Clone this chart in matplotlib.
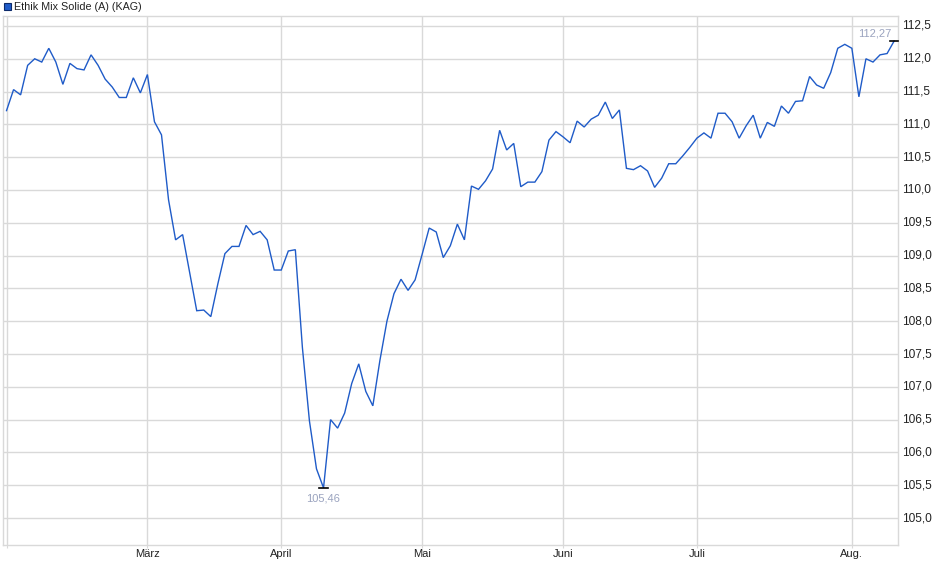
import matplotlib
matplotlib.use("Agg")
import matplotlib.pyplot as plt
from matplotlib.patches import Rectangle
from matplotlib.ticker import FixedLocator, FuncFormatter

# ---- data ----
series_name = "Ethik Mix Solide (A) (KAG)"
values = [
    111.21, 111.53, 111.45, 111.90, 112.00, 111.95, 112.16, 111.95, 111.61, 111.93,
    111.85, 111.83, 112.06, 111.90, 111.69, 111.57, 111.41, 111.41, 111.71, 111.48,
    111.76, 111.04, 110.84, 109.85, 109.24, 109.32, 108.74, 108.16, 108.17, 108.07,
    108.57, 109.03, 109.14, 109.14, 109.46, 109.32, 109.37, 109.24, 108.78, 108.78,
    109.07, 109.09, 107.60, 106.48, 105.75, 105.46, 106.50, 106.37, 106.60, 107.05,
    107.35, 106.93, 106.71, 107.40, 108.00, 108.42, 108.64, 108.47, 108.63, 109.02,
    109.42, 109.36, 108.97, 109.15, 109.48, 109.24, 110.06, 110.01, 110.14, 110.32,
    110.91, 110.61, 110.71, 110.05, 110.12, 110.12, 110.28, 110.76, 110.89, 110.81,
    110.72, 111.05, 110.96, 111.08, 111.14, 111.34, 111.09, 111.22, 110.33, 110.31,
    110.37, 110.29, 110.04, 110.18, 110.40, 110.40, 110.52, 110.65, 110.79, 110.87,
    110.79, 111.17, 111.17, 111.04, 110.79, 110.98, 111.14, 110.79, 111.03, 110.97,
    111.28, 111.17, 111.35, 111.36, 111.73, 111.60, 111.55, 111.79, 112.16, 112.22,
    112.16, 111.42, 112.00, 111.95, 112.06, 112.08, 112.27,
]
month_labels = ["März", "April", "Mai", "Juni", "Juli", "Aug."]
month_index = [20, 39, 59, 79, 98, 120]
y_ticks = [105.0, 105.5, 106.0, 106.5, 107.0, 107.5, 108.0, 108.5, 109.0,
           109.5, 110.0, 110.5, 111.0, 111.5, 112.0, 112.5]

# ---- styling ----
W, H = 940, 579
fig = plt.figure(figsize=(W / 100, H / 100), dpi=100)
plt.rcParams['font.family'] = ['Liberation Sans', 'DejaVu Sans']

left, right, top, bottom = 3, 898, 16, 545
ax = fig.add_axes([left / W, (H - bottom) / H, (right - left) / W, (bottom - top) / H])

line_color = "#1f5bc8"
grid_color = "#d9d9d9"
label_color = "#9aa3bf"

x = list(range(len(values)))
ax.plot(x, values, color=line_color, lw=1.0, solid_joinstyle="miter", zorder=3)

ax.set_xlim(-0.5, 126.55)
ax.set_ylim(104.589, 112.652)

# grids
ax.xaxis.set_major_locator(FixedLocator([0] + month_index))
ax.set_xticklabels([""] + month_labels)
ax.yaxis.set_major_locator(FixedLocator(y_ticks))
ax.yaxis.set_major_formatter(FuncFormatter(lambda v, p: f"{v:.1f}".replace(".", ",")))
ax.grid(True, color=grid_color, lw=1.0, zorder=0)
ax.set_axisbelow(True)

ax.yaxis.tick_right()
ax.tick_params(axis="y", length=0, pad=3, labelsize=8.6, labelcolor="#222222")
ax.tick_params(axis="x", length=2, color=grid_color, pad=1, labelsize=8, labelcolor="#222222")
for lbl in ax.get_yticklabels():
    lbl.set_va("center")
for s in ax.spines.values():
    s.set_color(grid_color)
    s.set_linewidth(1.0)

# min / max markers
imax = max(range(len(values)), key=lambda i: values[i])
imin = min(range(len(values)), key=lambda i: values[i])
ax.plot([imax - 0.6, imax + 0.6], [values[imax]] * 2, color="black", lw=1.2, zorder=4, clip_on=False)
ax.annotate(f"{values[imax]:.2f}".replace(".", ","), (imax, values[imax]),
            xytext=(-2, 2), textcoords="offset points", ha="right", va="bottom",
            fontsize=8, color=label_color)
ax.plot([imin - 0.6, imin + 0.6], [values[imin]] * 2, color="black", lw=1.2, zorder=4)
ax.annotate(f"{values[imin]:.2f}".replace(".", ","), (imin, values[imin]),
            xytext=(0, -4), textcoords="offset points", ha="center", va="top",
            fontsize=8, color=label_color)

# legend
fig.patches.append(Rectangle((4 / W, (H - 10) / H), 7 / W, 7 / H, transform=fig.transFigure,
                             facecolor="#1f5bc8", edgecolor="#0c2a6a", lw=0.8))
fig.text(14 / W, (H - 6.5) / H, series_name, fontsize=7.75, va="center", ha="left", color="#222222")

fig.savefig("out.png", dpi=100)
